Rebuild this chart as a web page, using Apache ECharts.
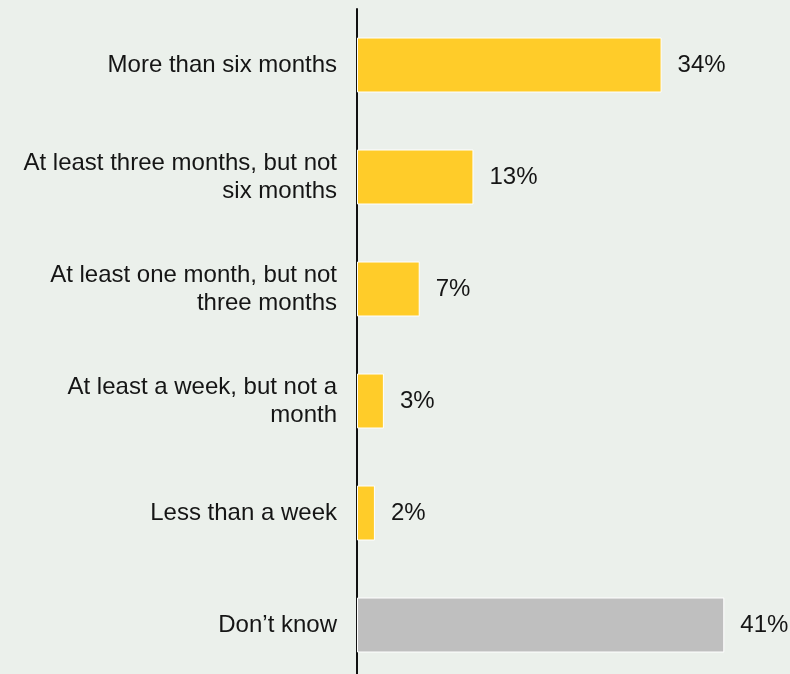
<!DOCTYPE html>
<html>
<head>
<meta charset="utf-8">
<script src="https://cdn.jsdelivr.net/npm/echarts@6/dist/echarts.min.js"></script>
<style>
  html, body { margin: 0; padding: 0; background: #ebf0eb; }
  #chart { width: 790px; height: 674px; }
</style>
</head>
<body>
<div id="chart"></div>
<script>
// Response categories, top to bottom
const categories = [
  'More than six months',
  'At least three months, but not\nsix months',
  'At least one month, but not\nthree months',
  'At least a week, but not a\nmonth',
  'Less than a week',
  'Don\u2019t know'
];
// Share of respondents (%)
const shares = [34, 13, 7, 3, 2, 41];
const barColors = ['#ffcc29', '#ffcc29', '#ffcc29', '#ffcc29', '#ffcc29', '#bfbfbf'];

const chart = echarts.init(document.getElementById('chart'));
chart.setOption({
  backgroundColor: '#ebf0eb',
  animation: false,
  grid: { left: 357, right: 3, top: 9, height: 672, containLabel: false, outerBoundsMode: 'none' },
  xAxis: {
    type: 'value', min: 0, max: 48,
    show: false
  },
  yAxis: {
    type: 'category',
    inverse: true,
    data: categories,
    axisLine: { show: true, lineStyle: { color: '#111', width: 2 } },
    axisTick: { show: false },
    axisLabel: {
      margin: 20,
      fontFamily: 'Liberation Sans, Arial, sans-serif',
      fontSize: 24,
      lineHeight: 28,
      color: '#151515',
      align: 'right'
    }
  },
  series: [{
    type: 'bar',
    barWidth: 55,
    data: shares.map((v, i) => ({ value: v, itemStyle: { color: barColors[i] } })),
    itemStyle: { borderColor: '#ffffff', borderWidth: 1 },
    label: {
      show: true,
      position: 'right',
      distance: 16,
      formatter: '{c}%',
      fontFamily: 'Liberation Sans, Arial, sans-serif',
      fontSize: 24,
      color: '#151515'
    }
  }]
});
</script>
</body>
</html>
